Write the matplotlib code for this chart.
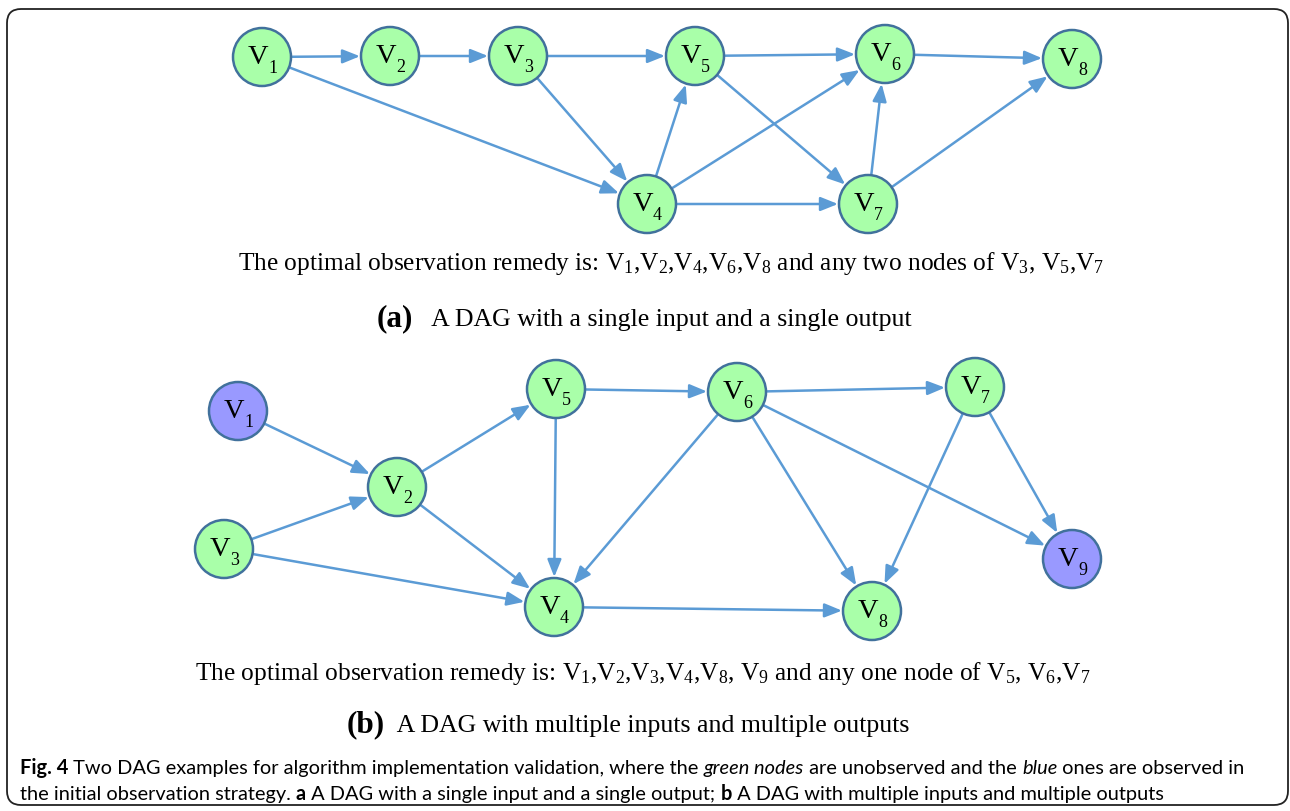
import matplotlib
matplotlib.use("Agg")
import matplotlib.pyplot as plt
from matplotlib.patches import Circle, FancyArrowPatch, FancyBboxPatch
from matplotlib.font_manager import FontProperties
import numpy as np

plt.rcParams['mathtext.fontset'] = 'custom'
plt.rcParams['mathtext.rm'] = 'Liberation Serif'
plt.rcParams['mathtext.it'] = 'Liberation Serif:italic'
plt.rcParams['mathtext.bf'] = 'Liberation Serif:bold'

# panel (a): single input, single output
a_names = ['1', '2', '3', '5', '6', '8', '4', '7']
a_x = [262, 390, 518, 695, 885, 1072, 647, 868]
a_y = [58, 57, 57, 57, 55, 60, 205, 205]
a_observed = []
a_edges = [('1', '2'), ('2', '3'), ('3', '5'), ('5', '6'), ('6', '8'),
           ('1', '4'), ('3', '4'), ('4', '5'), ('4', '6'), ('5', '7'),
           ('4', '7'), ('7', '6'), ('7', '8')]

# panel (b): multiple inputs, multiple outputs
b_names = ['1', '2', '3', '5', '6', '7', '4', '8', '9']
b_x = [238, 397, 224, 556, 737, 975, 554, 872, 1072]
b_y = [412, 488, 550, 390, 393, 388, 608, 612, 560]
b_observed = ['1', '9']
b_edges = [('1', '2'), ('3', '2'), ('2', '5'), ('2', '4'), ('3', '4'),
           ('5', '6'), ('5', '4'), ('6', '7'), ('6', '4'), ('6', '8'),
           ('6', '9'), ('7', '8'), ('7', '9'), ('4', '8')]

remedy_a = "The optimal observation remedy is: $\\mathrm{V}_1$,$\\mathrm{V}_2$,$\\mathrm{V}_4$,$\\mathrm{V}_6$,$\\mathrm{V}_8$ and any two nodes of $\\mathrm{V}_3$, $\\mathrm{V}_5$,$\\mathrm{V}_7$"
remedy_b = "The optimal observation remedy is: $\\mathrm{V}_1$,$\\mathrm{V}_2$,$\\mathrm{V}_3$,$\\mathrm{V}_4$,$\\mathrm{V}_8$, $\\mathrm{V}_9$ and any one node of $\\mathrm{V}_5$, $\\mathrm{V}_6$,$\\mathrm{V}_7$"
title_a = "A DAG with a single input and a single output"
title_b = "A DAG with multiple inputs and multiple outputs"

R = 29
GREEN = '#A9FFA9'
BLUE = '#9999FF'
RIM = '#41719C'
ARROW = '#5B9BD5'
SERIF = 'Liberation Serif'
SANS = 'Lato'

fig = plt.figure(figsize=(12.9, 8.12), dpi=100)
ax = fig.add_axes([0, 0, 1, 1])
ax.set_xlim(0, 1290)
ax.set_ylim(812, 0)
ax.axis('off')

ax.add_patch(FancyBboxPatch((7, 10), 1281, 796, boxstyle="round,pad=0,rounding_size=14",
                            fc='none', ec='#222222', lw=1.3))


def draw_graph(names, xs, ys, observed, edges):
    pos = {n: np.array([x, y], float) for n, x, y in zip(names, xs, ys)}
    for s, t in edges:
        p, q = pos[s], pos[t]
        u = (q - p) / np.hypot(*(q - p))
        a = FancyArrowPatch(p + u * (R + 1), q - u * (R + 1),
                            arrowstyle='-|>,head_length=1.05,head_width=0.42',
                            mutation_scale=10, color=ARROW, lw=1.8,
                            shrinkA=0, shrinkB=0, zorder=1)
        ax.add_patch(a)
    for n in names:
        cx, cy = pos[n]
        fc = BLUE if n in observed else GREEN
        ax.add_patch(Circle((cx, cy), R, fc=fc, ec=RIM, lw=1.8, zorder=2))
        ax.text(cx - 4, cy + 6, 'V', family=SERIF, fontsize=20.5, ha='center',
                va='baseline', zorder=3)
        ax.text(cx + 6, cy + 15, n, family=SERIF, fontsize=13, ha='left',
                va='baseline', zorder=3)


draw_graph(a_names, a_x, a_y, a_observed, a_edges)
draw_graph(b_names, b_x, b_y, b_observed, b_edges)

ax.text(671, 270, remedy_a, family=SERIF, fontsize=18.3, ha='center', va='baseline')
ax.text(643, 680, remedy_b, family=SERIF, fontsize=18.3, ha='center', va='baseline')

fig.canvas.draw()
renderer = fig.canvas.get_renderer()


def runs(x, y, parts, center=False):
    # lay text pieces one after another on a common baseline
    items = []
    for txt, fp in parts:
        t = ax.text(x, y, txt, fontproperties=fp, ha='left', va='baseline')
        items.append(t)
    widths = [t.get_window_extent(renderer).width for t in items]
    total = sum(widths)
    cur = x - total / 2 if center else x
    for t, w in zip(items, widths):
        t.set_x(cur)
        cur += w


ser = FontProperties(family=SERIF, size=18.6)
ser_b = FontProperties(family=SERIF, size=22.5, weight='bold')
runs(644, 326, [('(a)', ser_b), ('   ' + title_a, ser)], center=True)
runs(628, 732, [('(b)', ser_b), ('  ' + title_b, ser)], center=True)

cap = 14.4
sn = FontProperties(family=SANS, size=cap)
sb = FontProperties(family=SANS, size=cap, weight='bold')
si = FontProperties(family=SANS, size=cap, style='italic')
runs(20, 774, [('Fig. 4', sb),
               (' Two DAG examples for algorithm implementation validation, where the ', sn),
               ('green nodes', si), (' are unobserved and the ', sn), ('blue', si),
               (' ones are observed in', sn)])
runs(20, 800, [('the initial observation strategy. ', sn), ('a', sb),
               (' A DAG with a single input and a single output; ', sn), ('b', sb),
               (' A DAG with multiple inputs and multiple outputs', sn)])

fig.savefig('out.png', dpi=100)
